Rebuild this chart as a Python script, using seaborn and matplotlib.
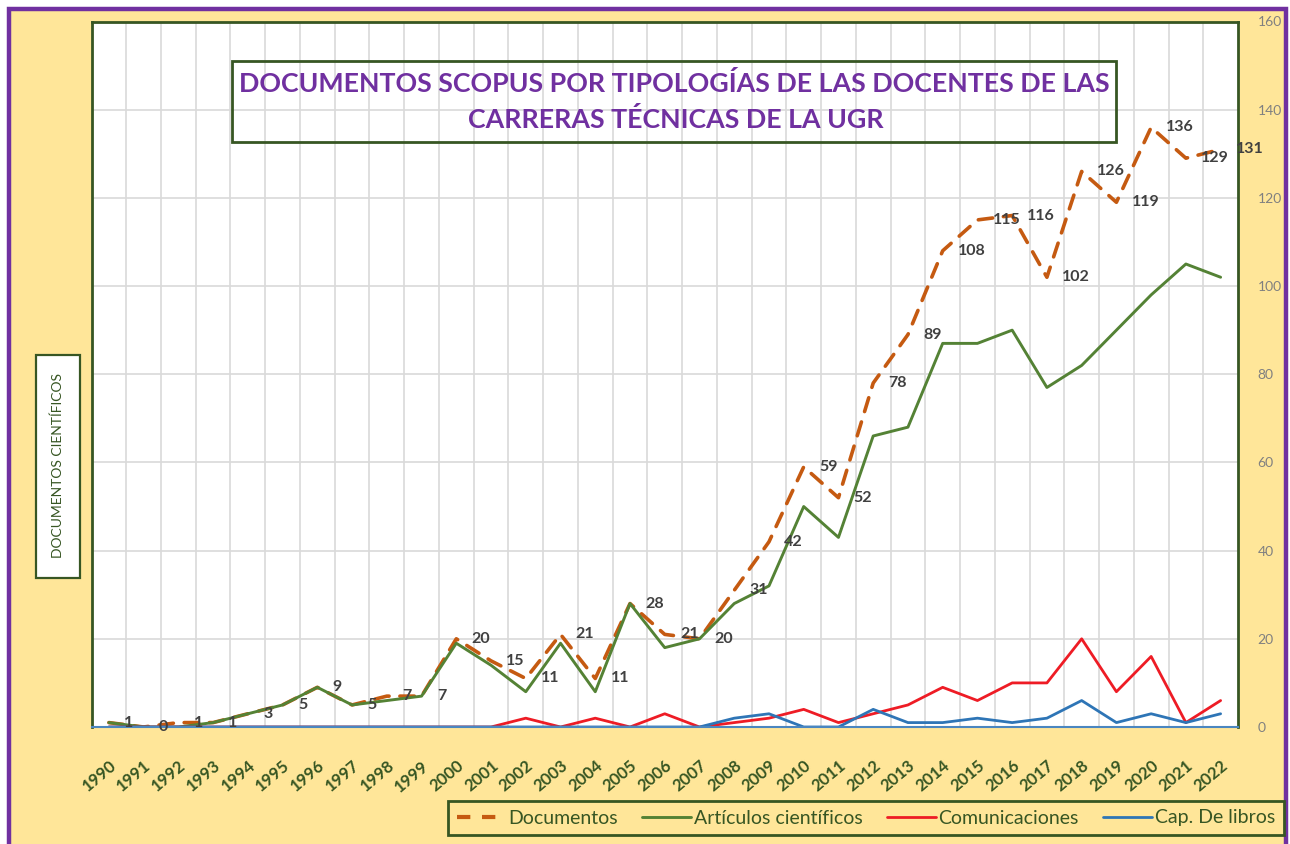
import matplotlib
matplotlib.use("Agg")
import matplotlib.pyplot as plt
import seaborn as sns
from matplotlib.patches import Rectangle
from matplotlib.lines import Line2D

# ---------------- data ----------------
years = [str(y) for y in range(1990, 2023)]
documentos = [1, 0, 1, 1, 3, 5, 9, 5, 7, 7, 20, 15, 11, 21, 11, 28, 21, 20, 31, 42,
              59, 52, 78, 89, 108, 115, 116, 102, 126, 119, 136, 129, 131]
articulos = [1, 0, 0, 1, 3, 5, 9, 5, 6, 7, 19, 14, 8, 19, 8, 28, 18, 20, 28, 32,
             50, 43, 66, 68, 87, 87, 90, 77, 82, 90, 98, 105, 102]
comunicaciones = [0, 0, 0, 0, 0, 0, 0, 0, 0, 0, 0, 0, 2, 0, 2, 0, 3, 0, 1, 2,
                  4, 1, 3, 5, 9, 6, 10, 10, 20, 8, 16, 1, 6]
cap_libros = [0, 0, 0, 0, 0, 0, 0, 0, 0, 0, 0, 0, 0, 0, 0, 0, 0, 0, 2, 3,
              0, 0, 4, 1, 1, 2, 1, 2, 6, 1, 3, 1, 3]
series_names = ["Documentos", "Artículos científicos", "Comunicaciones", "Cap. De libros"]
y_ticks = [0, 20, 40, 60, 80, 100, 120, 140, 160]
title_lines = ["DOCUMENTOS SCOPUS POR TIPOLOGÍAS DE LAS DOCENTES DE LAS",
               "CARRERAS TÉCNICAS DE LA UGR"]
y_label = "DOCUMENTOS CIENTÍFICOS"

# ---------------- style ----------------
sns.set_style("white")
plt.rcParams["font.family"] = ["Lato", "DejaVu Sans"]

W, H = 1290, 844
fig = plt.figure(figsize=(W / 100, H / 100), dpi=100, facecolor="white")

def fx(px):
    return px / W

def fy(py):
    return 1 - py / H

DKGREEN = "#375623"
YELLOW = "#FFE699"
PURPLE = "#7030A0"
colors = ["#C55A11", "#548235", "#EE1C25", "#2E75B6"]

# outer yellow panel with purple border
fig.patches.append(Rectangle((fx(9), fy(860)), fx(1286 - 9), (860 - 9) / H,
                             transform=fig.transFigure, facecolor=YELLOW,
                             edgecolor=PURPLE, lw=3.2, zorder=-10))

ax = fig.add_axes([fx(91.5), fy(727), fx(1238 - 91.5), (727 - 21.5) / H])
ax.set_zorder(1)
ax.set_facecolor("white")

x = list(range(len(years)))
data = [documentos, articulos, comunicaciones, cap_libros]
lws = [2.6, 2.1, 2.0, 2.0]
lines = []
for name, vals, c, lw in zip(series_names, data, colors, lws):
    sns.lineplot(x=x, y=vals, ax=ax, color=c, lw=lw, legend=False)
    ln = ax.get_lines()[-1]
    lines.append(ln)
lines[0].set_dashes((4, 3))
lines[0].set_dash_capstyle("round")

# data labels for Documentos
for i, v in enumerate(documentos):
    ax.annotate(str(v), (i, v), xytext=(11, 0), textcoords="offset points",
                ha="left", va="center", fontsize=11.5, fontweight="bold",
                color="#404040", zorder=5, annotation_clip=False)

ax.set_xlim(-0.5, len(years) - 0.5)
ax.set_ylim(0, 160)
ax.set_xticks(x)
ax.set_xticklabels(years, rotation=40, ha="right", rotation_mode="anchor",
                   fontsize=12, fontweight="bold", color=DKGREEN)
ax.set_xticks([i + 0.5 for i in x[:-1]], minor=True)
ax.set_yticks(y_ticks)
ax.yaxis.tick_right()
ax.tick_params(axis="y", length=0, pad=14, labelsize=10, labelcolor="#808080")
ax.tick_params(axis="x", which="both", length=0, pad=22)
ax.grid(False)
ax.grid(True, axis="y", which="major", color="#D9D9D9", lw=1.2)
ax.grid(True, axis="x", which="minor", color="#D9D9D9", lw=1.2)
ax.set_axisbelow(True)
for s in ["left", "top", "right"]:
    ax.spines[s].set_color(DKGREEN)
    ax.spines[s].set_linewidth(2)
ax.spines["bottom"].set_color("#4A86C0")
ax.spines["bottom"].set_linewidth(1.5)
ax.set_xlabel("")
ax.set_ylabel("")

# title box (drawn in axes layer so it sits above the plot area)
tbox = Rectangle((fx(232), fy(142)), fx(1116 - 232), (142 - 61) / H,
                 transform=fig.transFigure, fill=False,
                 edgecolor=DKGREEN, lw=2, zorder=6)
ax.add_artist(tbox)
tbox.set_clip_on(False)
fig.text(fx(674), fy(84), title_lines[0], ha="center", va="center",
         fontsize=19.3, fontweight="bold", color=PURPLE, zorder=7)
fig.text(fx(676), fy(120), title_lines[1], ha="center", va="center",
         fontsize=19.3, fontweight="bold", color=PURPLE, zorder=7)

# y label box
fig.patches.append(Rectangle((fx(36), fy(578)), fx(80 - 36), (578 - 355) / H,
                             transform=fig.transFigure, facecolor="white",
                             edgecolor=DKGREEN, lw=1.6, zorder=3))
fig.text(fx(58), fy(466), y_label, rotation=90, ha="center", va="center",
         fontsize=10, color=DKGREEN, zorder=4)

# legend
handles = []
for i, (name, c, lw) in enumerate(zip(series_names, colors, lws)):
    h = Line2D([0], [0], color=c, lw=lw if i else 3.0)
    if i == 0:
        h.set_dashes((3.2, 2.8))
    handles.append(h)
leg = fig.legend(handles, series_names, loc="center",
                 bbox_to_anchor=(fx(866), fy(818)), ncol=4, frameon=True,
                 fontsize=14, fancybox=False, handlelength=2.5,
                 handletextpad=0.15, columnspacing=1.25, borderpad=0.45)
leg.get_frame().set_edgecolor(DKGREEN)
leg.get_frame().set_facecolor(YELLOW)
leg.get_frame().set_linewidth(2)
leg.get_frame().set_alpha(1)
leg.set_zorder(8)
for t in leg.get_texts():
    t.set_color(DKGREEN)

fig.savefig("out.png", dpi=100, facecolor=fig.get_facecolor())
